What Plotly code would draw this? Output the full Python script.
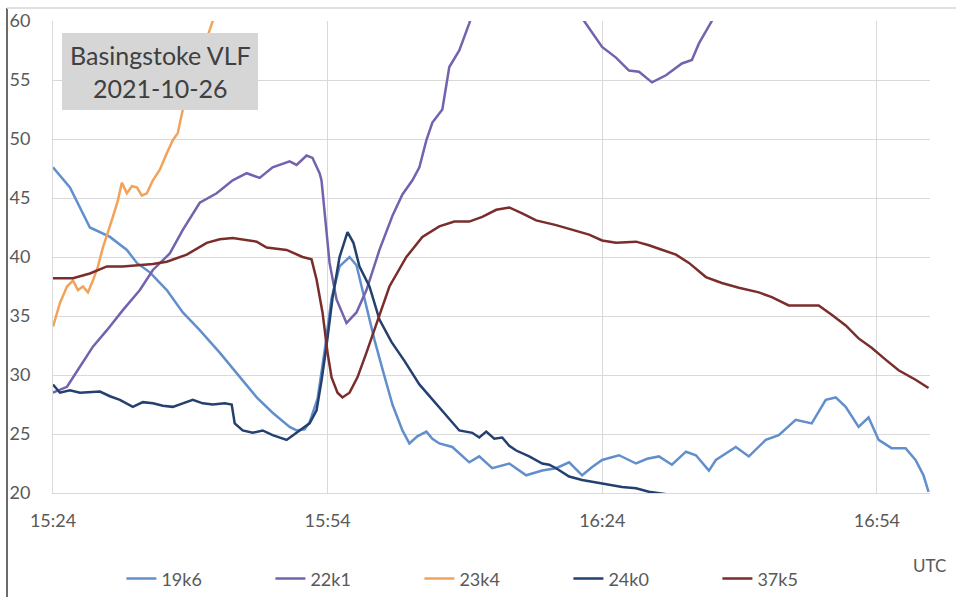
import pandas as pd
import plotly.graph_objects as go

# ---- data: minutes after 15:24 UTC, signal level ----
t_19k6 = [0, 1.85, 4.03, 5.13, 6.22, 8.07, 9.16, 10.58, 12.43, 14.18, 16.03, 18.21, 20.39, 22.25,
          23.99, 25.85, 26.61, 27.48, 28.03, 28.9, 29.66, 30.43, 31.3, 32.39, 33.15, 33.48, 34.24,
          35.11, 35.99, 37.08, 38.17, 38.93, 39.8, 40.79, 41.44, 42.2, 43.62, 44.6, 45.47, 46.56,
          47.98, 49.84, 51.69, 53.44, 54.96, 56.38, 57.8, 58.9, 59.98, 61.83, 63.69, 64.9, 66.19,
          67.61, 69.14, 70.23, 71.65, 72.41, 74.59, 76.01, 77.86, 79.28, 81.13, 82.88, 84.41, 85.5,
          86.59, 88.0, 89.09, 90.19, 91.6, 93.13, 94.22, 95.09, 95.64]
v_19k6 = [47.6, 45.9, 42.5, 42.1, 41.7, 40.6, 39.5, 38.7, 37.2, 35.3, 33.8, 31.9, 29.8, 28.1,
          26.8, 25.6, 25.3, 25.4, 26.0, 28.0, 32.0, 36.5, 39.2, 40.0, 39.3, 38.2, 35.8,
          33.0, 30.5, 27.5, 25.3, 24.2, 24.8, 25.2, 24.6, 24.2, 23.9, 23.2, 22.6, 23.1,
          22.1, 22.5, 21.5, 21.9, 22.1, 22.6, 21.5, 22.2, 22.8, 23.2, 22.5, 22.9, 23.1,
          22.4, 23.5, 23.2, 21.9, 22.8, 23.9, 23.1, 24.5, 24.9, 26.2, 25.9, 27.9, 28.1,
          27.3, 25.6, 26.4, 24.5, 23.8, 23.8, 22.8, 21.5, 20.1]

t_22k1 = [0, 1.53, 2.94, 4.36, 5.89, 7.63, 9.49, 10.91, 12.76, 14.18, 16.03, 17.88, 19.63, 21.16,
          22.57, 23.99, 25.85, 26.61, 27.7, 28.35, 29.12, 29.33, 30.21, 30.97, 32.06, 33.15, 34.24,
          35.66, 37.08, 38.17, 39.26, 40.02, 40.79, 41.44, 42.53, 43.29, 44.38, 45.47, 46.35,
          48.75, 52.02, 55.29, 57.25, 58.02, 59.98, 61.5, 62.92, 64.01, 65.43, 66.96, 68.7,
          69.79, 70.56, 71.97, 73.28, 77.1, 81.46, 86.91, 95.64]
v_22k1 = [28.5, 29.0, 30.7, 32.4, 33.8, 35.5, 37.2, 38.9, 40.3, 42.3, 44.6, 45.4, 46.5, 47.1,
          46.7, 47.6, 48.1, 47.8, 48.6, 48.4, 47.1, 46.5, 39.5, 36.4, 34.4, 35.3, 37.2,
          40.6, 43.5, 45.3, 46.5, 47.6, 49.9, 51.4, 52.5, 56.1, 57.5, 59.8, 62.0,
          64.5, 65.0, 63.0, 61.0, 60.0, 57.8, 56.9, 55.8, 55.7, 54.8, 55.4, 56.4,
          56.7, 58.1, 60.0, 62.0, 65.0, 67.0, 68.0, 69.0]

t_23k4 = [0, 0.76, 1.53, 2.18, 2.73, 3.27, 3.82, 4.36, 4.91, 5.45, 6.54, 7.09, 7.52, 8.07, 8.62,
          9.16, 9.71, 10.25, 10.91, 11.67, 12.43, 13.09, 13.63, 14.18, 15.49, 16.58, 17.45,
          18.21, 19.85]
v_23k4 = [34.1, 36.1, 37.5, 38.0, 37.2, 37.5, 37.0, 38.0, 39.2, 40.8, 43.4, 44.8, 46.3, 45.4, 46.0,
          45.9, 45.2, 45.4, 46.5, 47.4, 48.8, 49.9, 50.5, 52.5, 55.5, 58.0, 60.0,
          62.5, 66.0]

t_24k0 = [0, 0.76, 1.85, 2.94, 5.13, 6.22, 7.31, 8.72, 9.81, 10.91, 12.0, 13.09, 14.18, 15.27,
          16.36, 17.45, 18.76, 19.52, 19.85, 20.72, 21.81, 22.9, 23.99, 25.52, 26.94, 28.03,
          28.79, 29.33, 29.88, 30.53, 31.3, 32.17, 32.82, 33.48, 34.57, 35.66, 36.97, 38.39,
          40.02, 41.88, 43.29, 44.38, 45.8, 46.56, 47.33, 48.2, 49.07, 49.84, 50.6, 52.02,
          53.44, 54.2, 54.96, 56.38, 57.8, 59.98, 62.16, 63.69, 65.1, 67.0, 70.56, 76.01,
          81.46, 95.64]
v_24k0 = [29.2, 28.5, 28.7, 28.5, 28.6, 28.2, 27.9, 27.3, 27.7, 27.6, 27.4, 27.3, 27.6, 27.9,
          27.6, 27.5, 27.6, 27.5, 25.9, 25.3, 25.1, 25.3, 24.9, 24.5, 25.3, 25.9,
          27.0, 29.5, 32.5, 36.5, 40.0, 42.1, 41.2, 39.2, 37.5, 34.7, 32.8, 31.2,
          29.2, 27.5, 26.2, 25.3, 25.1, 24.7, 25.2, 24.6, 24.7, 24.0, 23.6, 23.1,
          22.5, 22.4, 22.1, 21.4, 21.1, 20.8, 20.5, 20.4, 20.1, 19.9, 19.4, 19.0,
          18.8, 18.5]

t_37k5 = [0, 2.18, 4.03, 5.89, 7.63, 9.49, 10.91, 12.43, 14.61, 16.79, 18.21, 19.63, 21.16,
          22.25, 23.34, 25.52, 27.26, 28.24, 28.79, 29.44, 29.99, 30.43, 31.08, 31.62, 32.39,
          33.26, 34.24, 35.33, 36.75, 38.6, 40.35, 42.2, 43.84, 45.47, 46.89, 48.42, 49.84,
          51.25, 52.78, 54.96, 56.71, 58.56, 59.98, 61.5, 63.69, 65.1, 66.19, 68.05, 69.47,
          71.32, 73.06, 74.92, 77.1, 78.52, 80.37, 82.22, 83.64, 85.06, 86.59, 88.0, 89.42,
          90.95, 92.37, 94.22, 95.64]
v_37k5 = [38.2, 38.2, 38.6, 39.2, 39.2, 39.3, 39.4, 39.6, 40.2, 41.2, 41.5, 41.6, 41.4,
          41.3, 40.8, 40.6, 40.0, 39.8, 38.1, 35.3, 31.9, 29.8, 28.5, 28.1, 28.5,
          29.8, 31.9, 34.4, 37.5, 40.0, 41.7, 42.6, 43.0, 43.0, 43.4, 44.0, 44.2,
          43.7, 43.1, 42.7, 42.3, 41.9, 41.4, 41.2, 41.3, 41.0, 40.7, 40.2, 39.5,
          38.3, 37.8, 37.4, 37.0, 36.6, 35.9, 35.9, 35.9, 35.1, 34.2, 33.1, 32.3,
          31.3, 30.4, 29.6, 28.9]

series_names = ["19k6", "22k1", "23k4", "24k0", "37k5"]
series_colors = ["#628fcc", "#7462ae", "#f2a35a", "#24406e", "#7a2d2b"]
tick_labels = ["15:24", "15:54", "16:24", "16:54"]

base = pd.Timestamp("2021-10-26 15:24")


def to_time(mins):
    return base + pd.to_timedelta(mins, unit="min")


fig = go.Figure()
for name, color, t, v in zip(series_names, series_colors,
                             [t_19k6, t_22k1, t_23k4, t_24k0, t_37k5],
                             [v_19k6, v_22k1, v_23k4, v_24k0, v_37k5]):
    fig.add_trace(go.Scatter(x=to_time(t), y=v, mode="lines", name=name,
                             line=dict(color=color, width=2.5)))

tick_times = [base + pd.Timedelta(minutes=30 * i) for i in range(len(tick_labels))]

grid = "#d9d9d9"
font_family = "Lato, 'Open Sans', sans-serif"
fig.update_layout(
    width=956, height=597,
    margin=dict(l=53, r=26, t=21, b=104, autoexpand=False),
    paper_bgcolor="white", plot_bgcolor="white",
    font=dict(family=font_family, size=18, color="#595959"),
    showlegend=True,
    legend=dict(orientation="h", x=0.078, xanchor="left", y=-0.182, yanchor="middle",
                entrywidth=104, font=dict(size=18, color="#595959"),
                bgcolor="rgba(0,0,0,0)"),
    xaxis=dict(type="date", range=[base, to_time(95.8)],
               tickvals=tick_times, ticktext=tick_labels,
               showgrid=True, gridcolor=grid, gridwidth=1,
               showline=True, linecolor=grid, linewidth=1,
               zeroline=False, ticks="", ticklabelstandoff=11),
    yaxis=dict(range=[20, 60], dtick=5, tick0=20,
               showgrid=True, gridcolor=grid, gridwidth=1,
               showline=True, linecolor=grid, linewidth=1,
               zeroline=False, ticks="", ticklabelstandoff=18),
)

# title box
fig.add_shape(type="rect", xref="paper", yref="paper",
              x0=(62 - 53) / 877, x1=(258 - 53) / 877,
              y0=(493 - 110) / 472, y1=(493 - 33) / 472,
              fillcolor="#d6d6d6", line=dict(width=0), layer="above")
fig.add_annotation(xref="paper", yref="paper",
                   x=(160 - 53) / 877, y=(493 - 71.5) / 472,
                   text="Basingstoke VLF<br>2021-10-26", showarrow=False,
                   font=dict(family=font_family, size=25, color="#404040"),
                   align="center", xanchor="center", yanchor="middle")

# axis unit label
fig.add_annotation(xref="paper", yref="paper",
                   x=(948 - 53) / 877, y=(493 - 565) / 472,
                   text="UTC", showarrow=False, xanchor="right", yanchor="middle",
                   font=dict(family=font_family, size=17, color="#595959"))

# outer frame pieces of the screenshot
fig.add_shape(type="line", xref="paper", yref="paper",
              x0=(7 - 53) / 877, x1=(7 - 53) / 877,
              y0=(493 - 8) / 472, y1=(493 - 597) / 472,
              line=dict(color="#6b6b6b", width=2))
fig.add_shape(type="line", xref="paper", yref="paper",
              x0=(7 - 53) / 877, x1=(956 - 53) / 877,
              y0=(493 - 8) / 472, y1=(493 - 8) / 472,
              line=dict(color="#e0e0e0", width=2))

fig.write_html("out.html", config={"displayModeBar": False},
               post_script="document.body.style.margin='0';document.body.style.overflow='hidden';")
